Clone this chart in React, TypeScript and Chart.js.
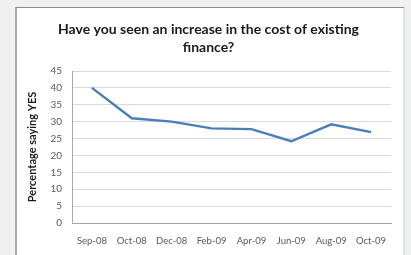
import React, { useEffect, useRef } from "react";
import { Chart, registerables } from "chart.js";

Chart.register(...registerables);

const categories = ["Sep-08", "Oct-08", "Dec-08", "Feb-09", "Apr-09", "Jun-09", "Aug-09", "Oct-09"];
const percentYes = [40, 31, 30, 28, 27.8, 24.2, 29.2, 26.9];
const yTicks = [0, 5, 10, 15, 20, 25, 30, 35, 40, 45];
const titleLines = ["Have you seen an increase in the cost of existing", "finance?"];
const yAxisTitle = "Percentage saying YES";

const FONT = "Lato, 'Open Sans', sans-serif";

export default function App() {
  const ref = useRef<HTMLCanvasElement | null>(null);

  useEffect(() => {
    document.body.style.margin = "0";
    const ctx = ref.current;
    if (!ctx) return;
    const chart = new Chart(ctx, {
      type: "line",
      data: {
        labels: categories,
        datasets: [
          {
            data: percentYes,
            borderColor: "#4a7ebb",
            borderWidth: 2.4,
            pointRadius: 0,
            tension: 0,
            fill: false,
          },
        ],
      },
      options: {
        animation: false,
        responsive: false,
        devicePixelRatio: 1,
        layout: { padding: { left: 26, right: 20, top: 0, bottom: 0 } },
        plugins: {
          legend: { display: false },
          tooltip: { enabled: false },
          title: {
            display: true,
            text: titleLines,
            color: "#1a1a1a",
            font: { family: FONT, size: 14, weight: "bold", lineHeight: 1.3 },
            padding: { top: 20, bottom: 14.6 },
          },
        },
        scales: {
          x: {
            offset: true,
            grid: { display: false, drawTicks: false },
            border: { display: true, color: "#a6a6a6", width: 1 },
            ticks: {
              color: "#595959",
              font: { family: FONT, size: 9.5 },
              padding: 12,
              maxRotation: 0,
              autoSkip: false,
            },
            afterFit: (axis: any) => {
              axis.height = 32;
            },
          },
          y: {
            min: 0,
            max: 45,
            afterBuildTicks: (axis: any) => {
              axis.ticks = yTicks.map((v) => ({ value: v }));
            },
            grid: { color: "#d9d9d9", lineWidth: 1, drawTicks: false },
            border: { display: true, color: "#a6a6a6", width: 1 },
            ticks: {
              color: "#595959",
              font: { family: FONT, size: 10 },
              padding: 10,
            },
            title: {
              display: true,
              text: yAxisTitle,
              color: "#1a1a1a",
              font: { family: FONT, size: 11, weight: "bold" },
              padding: { top: 0, bottom: 0 },
            },
            afterFit: (axis: any) => {
              axis.width = 46;
            },
          },
        },
      },
    });
    return () => chart.destroy();
  }, []);

  return (
    <div style={{ position: "fixed", left: 0, top: 0, width: 411, height: 255, background: "#f0f0f0", overflow: "hidden" }}>
      <div
        style={{
          position: "absolute",
          left: 15,
          top: 7,
          width: 386,
          height: 260,
          background: "#ffffff",
          borderLeft: "2px solid #a9a9a9",
          borderTop: "1px solid #8c8c8c",
          borderRight: "2px solid #dbe3f0",
        }}
      />
      <canvas ref={ref} width={411} height={255} style={{ position: "absolute", left: 0, top: 0 }} />
    </div>
  );
}
